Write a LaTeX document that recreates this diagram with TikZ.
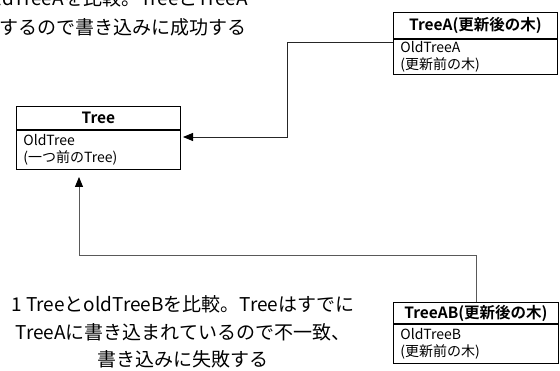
\documentclass[tikz,border=0pt]{standalone}
\usepackage{fontspec}
\setmainfont{Noto Sans CJK JP}[BoldFont={Noto Sans CJK JP Bold}]
\usetikzlibrary{arrows.meta}
\begin{document}
\begin{tikzpicture}[x=1pt,y=1pt,
  hdr/.style={draw=black,line width=0.9pt,anchor=north west,inner sep=0pt,
    font=\fontsize{15.5}{16}\selectfont\bfseries},
  bodybox/.style={draw=black,line width=0.9pt,anchor=north west,inner xsep=7pt,inner ysep=2pt,
    align=left,font=\fontsize{14}{17.5}\selectfont},
  note/.style={font=\fontsize{19}{27.5}\selectfont,inner sep=0pt},
  conn/.style={line width=0.9pt,-{Triangle[length=10pt,width=8pt,color=black]}}]
\useasboundingbox (0,0) rectangle (560,370);
% TreeA
\node[hdr,minimum width=164,minimum height=26] (ah) at (393,358) {TreeA(更新後の木)};
\node[bodybox,minimum width=164,minimum height=35,text width=150] (ab) at (ah.south west) {OldTreeA\\(更新前の木)};
% Tree
\node[hdr,minimum width=164,minimum height=23] (th) at (16,264) {Tree};
\node[bodybox,minimum width=164,minimum height=39,text width=150] (tb) at (th.south west) {OldTree\\(一つ前のTree)};
% TreeAB
\node[hdr,minimum width=165,minimum height=21] (bh) at (393,68) {TreeAB(更新後の木)};
\node[bodybox,minimum width=165,minimum height=39,text width=151] (bb) at (bh.south west) {OldTreeB\\(更新前の木)};
% notes
\node[note,anchor=east] (n1) at (248,372) {oldTreeAを比較。TreeとTreeA};
\node[note,anchor=west] (n2) at (-1,343) {するので書き込みに成功する};
\node[note,align=center] (n3) at (183,38) {1 TreeとoldTreeBを比較。Treeはすでに\\TreeAに書き込まれているので不一致、\\書き込みに失敗する};
% connectors
\coordinate (c1) at (287,328);
\coordinate (c2) at (287,233);
\coordinate (t1) at (183,233);
\draw[conn,draw=black!85] (ab.west |- c1) -- (c1) -- (c2) -- (t1);
\coordinate (d1) at (476,115);
\coordinate (d2) at (79,115);
\coordinate (t2) at (79,193);
\draw[conn,draw=black!65] (bh.north -| d1) -- (d1) -- (d2) -- (t2);
\end{tikzpicture}
\end{document}
